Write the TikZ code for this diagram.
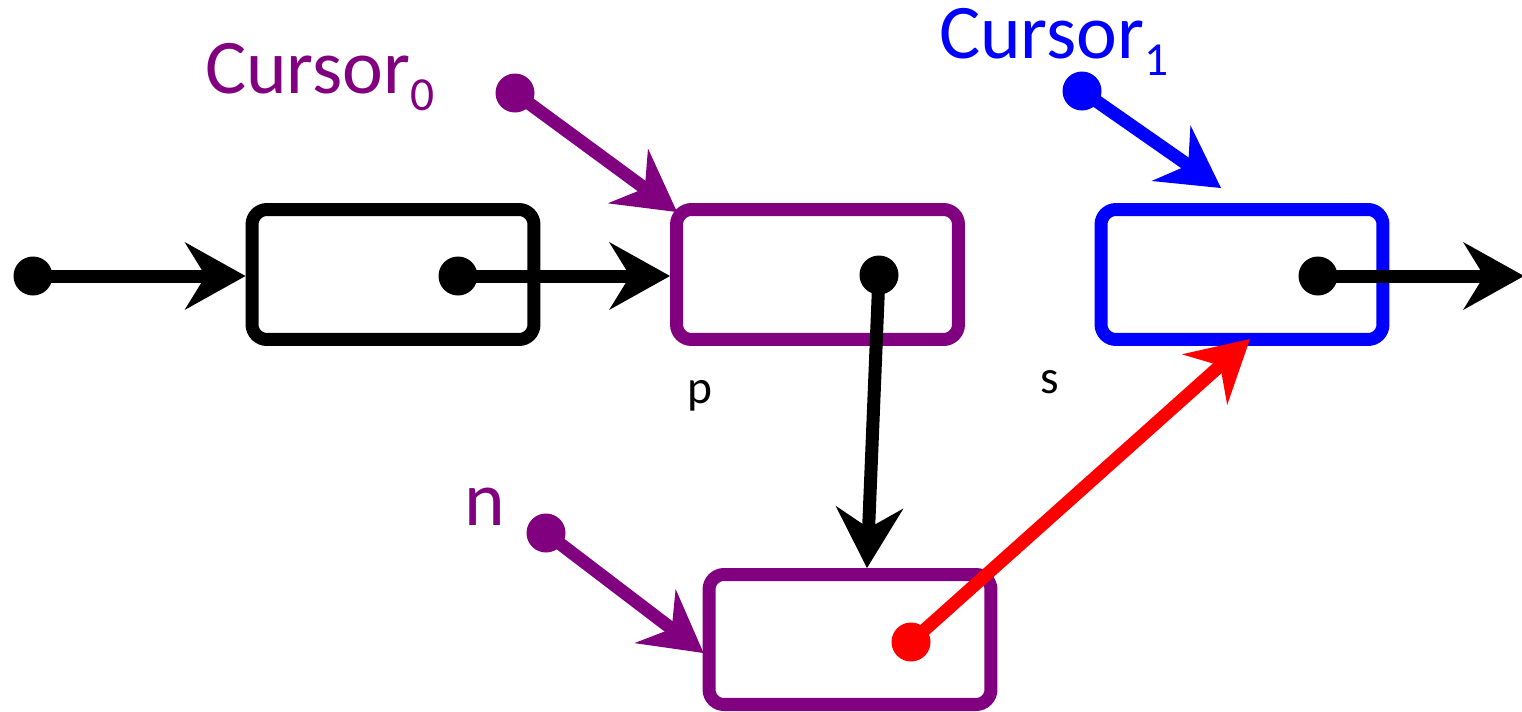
\documentclass[tikz,border=0pt]{standalone}
\usepackage{fontspec}
\setmainfont{Carlito}
\usetikzlibrary{arrows.meta,calc}
\definecolor{cpurple}{RGB}{128,0,128}
\definecolor{cblue}{RGB}{0,0,255}
\definecolor{cred}{RGB}{255,0,0}
\newcommand{\bigtext}{\fontsize{44pt}{48pt}\selectfont}
\newcommand{\smalltext}{\fontsize{27pt}{30pt}\selectfont}
\newcommand{\subidx}[1]{\raisebox{-0.35cm}{\smalltext #1}}
\tikzset{
  listbox/.style={draw, line width=7.4pt, rounded corners=0.3cm,
    minimum width=5.64cm, minimum height=2.6cm, inner sep=0pt},
  dot/.style={circle, fill, inner sep=0pt, minimum size=0.78cm},
  ptr/.style={line width=7.4pt,
    -{Stealth[length=1.22cm, width=1.36cm, inset=0.42cm, line width=0pt]}},
  lbl/.style={anchor=base west, inner sep=0pt, outer sep=0pt},
}
\begin{document}
\begin{tikzpicture}[x=0.02cm, y=-0.02cm]
\useasboundingbox (0,0) rectangle (1522,711);

% list cells
\node[listbox, draw=black]   (boxA) at (393,274.5) {};
\node[listbox, draw=cpurple] (boxB) at (817.5,274.5) {};
\node[listbox, draw=cblue]   (boxD) at (1242,274.5) {};
\node[listbox, draw=cpurple] (boxC) at (850,639.5) {};

% pointer origins
\node[dot, black]   (d0) at (33,276) {};
\node[dot, black]   (dA) at (458,276) {};
\node[dot, black]   (dB) at (879,275) {};
\node[dot, black]   (dD) at (1318,276) {};
\node[dot, cred]    (dC) at (911,642) {};
\node[dot, cpurple] (c0) at (515,93) {};
\node[dot, cblue]   (c1) at (1082,91) {};
\node[dot, cpurple] (cn) at (546,533) {};
\coordinate (out) at (1524,276);

% labels
\node[lbl, text=cpurple] (l0) at (205,93) {\bigtext Cursor\subidx{0}};
\node[lbl, text=cblue]   (l1) at (939,58) {\bigtext Cursor\subidx{1}};
\node[lbl, text=cpurple] (ln) at (464,525) {\bigtext n};
\node[lbl, text=black]   (lp) at (687,403) {\smalltext p};
\node[lbl, text=black]   (ls) at (1040,393) {\smalltext s};

% links
\draw[ptr, black] (d0.center) -- (d0 -| boxA.west);
\draw[ptr, black] (dA.center) -- (dA -| boxB.west);
\draw[ptr, black] (dB.center) -- ($(boxC.north)+(17,0)$);
\draw[ptr, black] (dD.center) -- (out);
\draw[ptr, cred]  (dC.center) -- ($(boxD.south)+(8,-7)$);

% cursors
\draw[ptr, cpurple] (c0.center) -- ($(boxB.north west)+(7,9)$);
\draw[ptr, cblue]   (c1.center) -- ($(boxD.north)+(-21,-15)$);
\draw[ptr, cpurple] (cn.center) -- ($(boxC.west)+(1,13.5)$);
\end{tikzpicture}
\end{document}
